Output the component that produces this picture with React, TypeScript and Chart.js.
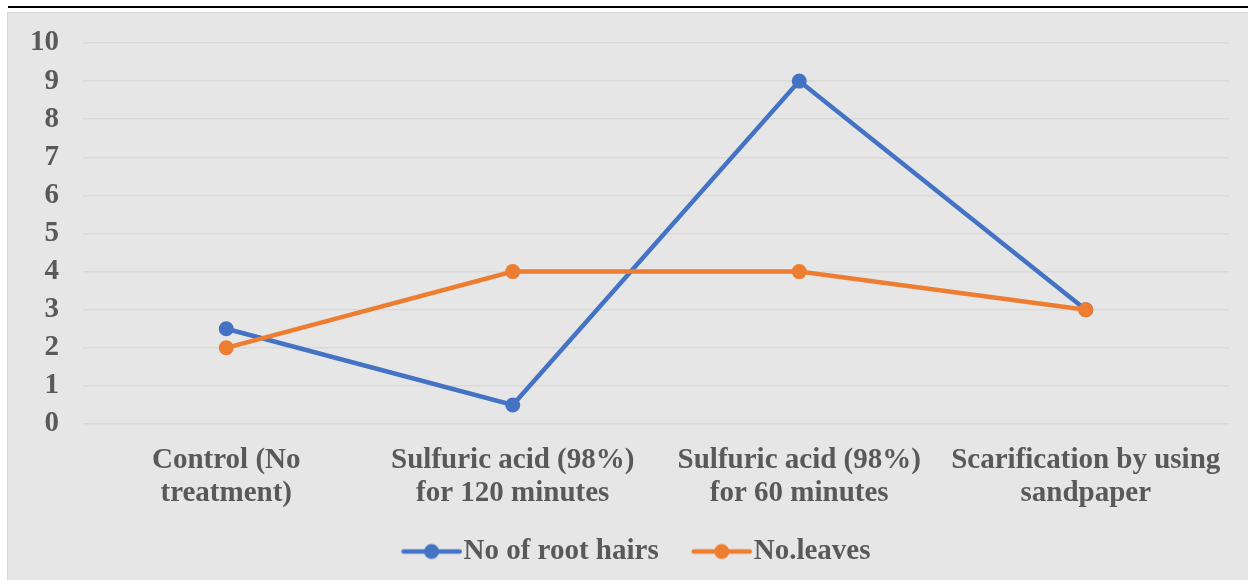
import React, { useEffect, useRef } from "react";
import { Chart, registerables } from "chart.js";

Chart.register(...registerables);

const categories: string[][] = [
  ["Control (No", "treatment)"],
  ["Sulfuric acid (98%)", "for 120 minutes"],
  ["Sulfuric acid (98%)", "for 60 minutes"],
  ["Scarification by using", "sandpaper"],
];
const rootHairs: number[] = [2.5, 0.5, 9, 3];
const leaves: number[] = [2, 4, 4, 3];
const seriesNames: string[] = ["No of root hairs", "No.leaves"];
const seriesColors: string[] = ["#4472c4", "#ed7d31"];

const FONT = "'Liberation Serif', 'Times New Roman', serif";
const TEXT = "#595959";

function legendIcon(color: string): HTMLCanvasElement {
  const c = document.createElement("canvas");
  c.width = 96;
  c.height = 20;
  const ctx = c.getContext("2d")!;
  const x0 = 37.75;
  const x1 = 93.75;
  ctx.strokeStyle = color;
  ctx.lineWidth = 4.5;
  ctx.lineCap = "round";
  ctx.beginPath();
  ctx.moveTo(x0, 10);
  ctx.lineTo(x1, 10);
  ctx.stroke();
  ctx.fillStyle = color;
  ctx.beginPath();
  ctx.arc((x0 + x1) / 2, 10, 7.5, 0, Math.PI * 2);
  ctx.fill();
  return c;
}

export default function App() {
  const ref = useRef<HTMLCanvasElement | null>(null);

  useEffect(() => {
    if (!ref.current) return;
    const icons = seriesColors.map(legendIcon);
    const chart = new Chart(ref.current, {
      type: "line",
      data: {
        labels: categories,
        datasets: [
          {
            label: seriesNames[0],
            data: rootHairs,
            borderColor: seriesColors[0],
            backgroundColor: seriesColors[0],
            borderWidth: 4.5,
            pointRadius: 7.5,
            pointBorderWidth: 0,
            pointHoverRadius: 7.5,
            tension: 0,
            order: 1,
          },
          {
            label: seriesNames[1],
            data: leaves,
            borderColor: seriesColors[1],
            backgroundColor: seriesColors[1],
            borderWidth: 4.5,
            pointRadius: 7.5,
            pointBorderWidth: 0,
            pointHoverRadius: 7.5,
            tension: 0,
            order: 0,
          },
        ],
      },
      options: {
        animation: false,
        responsive: false,
        maintainAspectRatio: false,
        layout: { padding: { left: 20, right: 19, top: 43, bottom: 4 } },
        scales: {
          x: {
            offset: true,
            grid: { display: false, drawTicks: false },
            border: { display: false },
            ticks: {
              color: TEXT,
              padding: 20,
              maxRotation: 0,
              autoSkip: false,
              font: { family: FONT, size: 29, weight: "bold", lineHeight: 1.14 },
            },
            afterFit: (s: any) => {
              s.height = 103;
            },
          },
          y: {
            min: 0,
            max: 10,
            ticks: {
              stepSize: 1,
              color: TEXT,
              padding: 24,
              font: { family: FONT, size: 29, weight: "bold", lineHeight: 1.14 },
            },
            grid: { color: "#d9d9d9", lineWidth: 1.5, drawTicks: false },
            border: { display: false },
            afterFit: (s: any) => {
              s.width = 63;
            },
          },
        },
        plugins: {
          tooltip: { enabled: false },
          legend: {
            position: "bottom",
            labels: {
              usePointStyle: true,
              pointStyleWidth: 70.5,
              padding: 10,
              color: TEXT,
              font: { family: FONT, size: 29, weight: "bold" },
              generateLabels: () =>
                seriesNames.map((name, i) => ({
                  text: name,
                  fillStyle: seriesColors[i],
                  strokeStyle: seriesColors[i],
                  fontColor: TEXT,
                  lineWidth: 0,
                  pointStyle: icons[i],
                  hidden: false,
                  datasetIndex: i,
                })),
            },
          },
        },
      },
    });
    return () => chart.destroy();
  }, []);

  return (
    <div
      style={{
        position: "absolute",
        top: 0,
        left: 0,
        width: 1248,
        height: 580,
        background: "#ffffff",
        overflow: "hidden",
      }}
    >
      <div
        style={{
          position: "absolute",
          top: 6,
          left: 8,
          width: 1240,
          height: 2,
          background: "#000000",
        }}
      />
      <div
        style={{
          position: "absolute",
          top: 12,
          left: 7,
          width: 1241,
          height: 568,
          background: "#e6e6e6",
          borderTop: "1px solid #d6d6d6",
          borderLeft: "1px solid #d6d6d6",
          boxSizing: "border-box",
        }}
      />
      <canvas
        ref={ref}
        width={1248}
        height={580}
        style={{ position: "absolute", top: 0, left: 0, width: 1248, height: 580 }}
      />
    </div>
  );
}
